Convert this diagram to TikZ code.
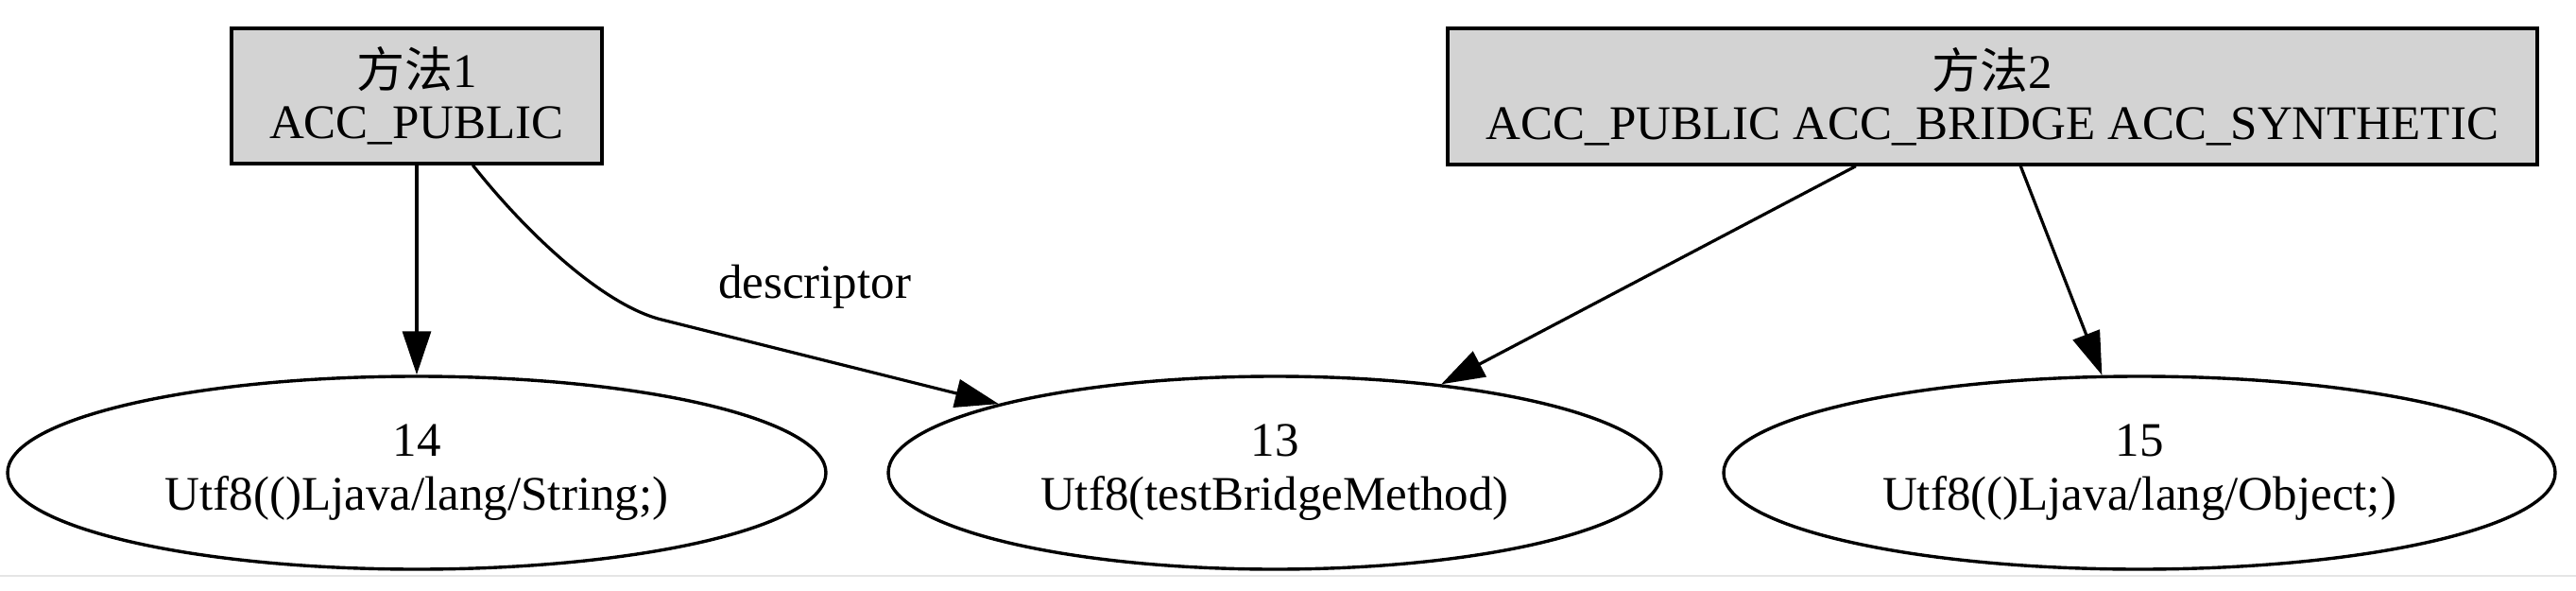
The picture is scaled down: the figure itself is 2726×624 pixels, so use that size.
\documentclass[tikz,border=0pt]{standalone}
\usepackage{fontspec}
\setmainfont{Liberation Serif}
\newfontfamily\cjk{Noto Sans CJK SC}
\usetikzlibrary{shapes.geometric,arrows.meta}
\begin{document}
\begin{tikzpicture}[x=1pt,y=-1pt,
  every node/.style={font=\fontsize{51}{54}\selectfont},
  methodbox/.style={draw=black,fill={rgb,255:red,211;green,211;blue,211},line width=3.4pt,
    rectangle,inner sep=0pt,align=center},
  cpool/.style={draw=black,line width=3.4pt,ellipse,inner sep=0pt,align=center,
    font=\fontsize{51}{57}\selectfont},
  edge/.style={draw=black,line width=3.2pt,-{Triangle[length=46pt,width=30pt]}},
  edgelabel/.style={inner sep=0pt,anchor=base}]
\useasboundingbox[fill=white] (0,0) rectangle (2726,624);
\draw[line width=1.5pt,black!10] (0,609) -- (2726,609);

\node[methodbox,minimum width=392pt,minimum height=143pt] (m1) at (441,101.5)
  {{\cjk 方法}1\\ACC\_PUBLIC};
\node[methodbox,minimum width=1153pt,minimum height=144pt] (m2) at (2108.5,102)
  {{\cjk 方法}2\\ACC\_PUBLIC ACC\_BRIDGE ACC\_SYNTHETIC};

\node[cpool,minimum width=866pt,minimum height=204pt] (e14) at (441,500)
  {14\\Utf8(()Ljava/lang/String;)};
\node[cpool,minimum width=818pt,minimum height=204pt] (e13) at (1349,500)
  {13\\Utf8(testBridgeMethod)};
\node[cpool,minimum width=880pt,minimum height=204pt] (e15) at (2264,500)
  {15\\Utf8(()Ljava/lang/Object;)};

\draw[edge] (m1.south) -- (e14.north);
\draw[edge] (m1.-51.4) .. controls (560,250) and (640,323) .. (700,338) -- (e13.166.6);
\node[edgelabel] (lbl) at (862,315) {descriptor};
\draw[edge] (m2.207.6) -- (e13.28.2);
\draw[edge] (m2.-68.1) -- (e15.111.5);
\end{tikzpicture}
\end{document}
